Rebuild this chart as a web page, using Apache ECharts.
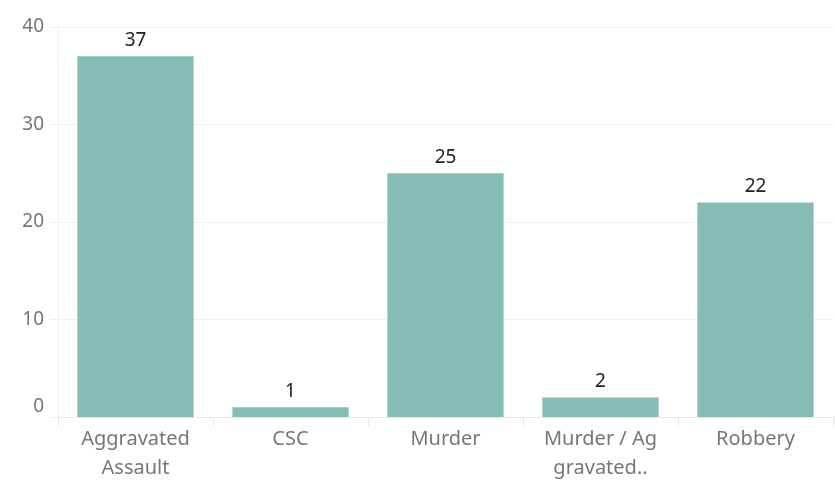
<!DOCTYPE html>
<html>
<head>
<meta charset="utf-8">
<script src="https://cdn.jsdelivr.net/npm/echarts@6/dist/echarts.min.js"></script>
<style>
  html, body { margin: 0; padding: 0; background: #fff; }
  #chart { width: 835px; height: 483px; }
</style>
</head>
<body>
<div id="chart"></div>
<script>
// data
const categories = ['Aggravated\nAssault', 'CSC', 'Murder', 'Murder / Ag\ngravated..', 'Robbery']
const counts = [37, 1, 25, 2, 22]
const yTicks = [0, 10, 20, 30, 40]

const chart = echarts.init(document.getElementById('chart'))

const option = {
  animation: false,
  textStyle: { fontFamily: '"Noto Sans", sans-serif' },
  grid: { left: 58, right: 2, top: 27, bottom: 63 },
  xAxis: {
    type: 'category',
    data: categories,
    axisLine: { lineStyle: { color: '#e6e6e6', type: 'dashed' } },
    axisTick: { show: true, length: 9, lineStyle: { color: '#e6e6e6' } },
    axisLabel: { color: '#777', fontSize: 20, lineHeight: 29, margin: 8 }
  },
  yAxis: {
    type: 'value',
    min: yTicks[0],
    max: yTicks[yTicks.length - 1],
    interval: 10,
    axisLine: { show: true, lineStyle: { color: '#ededed' } },
    axisTick: { show: true, length: 8, lineStyle: { color: '#ededed' } },
    splitLine: { lineStyle: { color: '#f0f0f0' } },
    axisLabel: {
      color: '#777',
      fontSize: 19,
      margin: 14,
      formatter: v => (v === 0 ? '{z|0}' : String(v)),
      rich: { z: { color: '#777', fontSize: 19, padding: [0, 0, 20, 0] } }
    }
  },
  series: [
    {
      type: 'bar',
      data: counts,
      barWidth: '75%',
      itemStyle: { color: '#86bcb6' },
      label: {
        show: true,
        position: 'top',
        color: '#222',
        fontSize: 19,
        distance: 6
      }
    }
  ]
}

chart.setOption(option)
</script>
</body>
</html>
